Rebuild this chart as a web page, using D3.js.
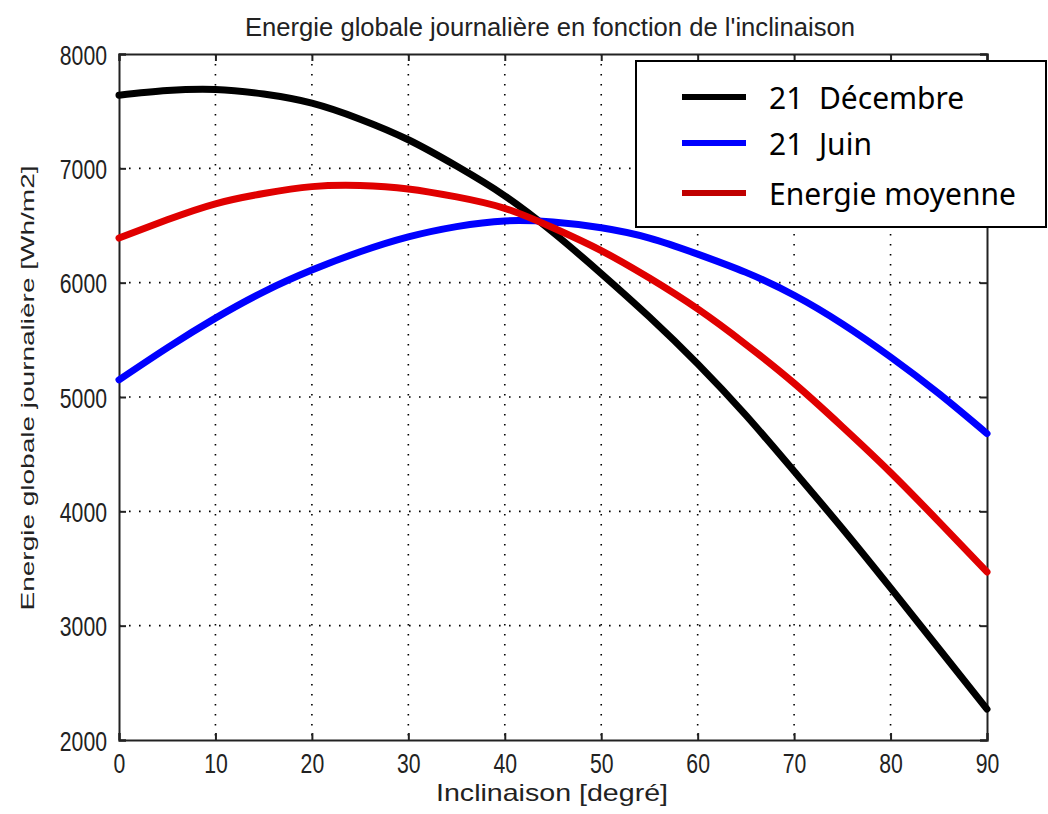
<!DOCTYPE html>
<html><head><meta charset="utf-8">
<script src="https://cdn.jsdelivr.net/npm/d3@7"></script>
<style>body{margin:0;background:#fff}svg{display:block}</style>
</head><body>
<svg id="c" width="1048" height="814"></svg>
<script>
const inclinaison = [0,5,10,15,20,25,30,35,40,45,50,55,60,65,70,75,80,85,90];
const decembre = [7640,7680,7690,7650,7570,7430,7250,7020,6760,6440,6080,5700,5290,4840,4350,3850,3330,2800,2270];
const juin     = [5150,5430,5690,5920,6110,6270,6400,6490,6540,6530,6480,6390,6250,6090,5890,5640,5350,5030,4680];
const moyenne  = [6390,6550,6690,6780,6840,6850,6820,6750,6650,6480,6280,6040,5770,5460,5120,4740,4340,3910,3470];
const xTicks = [0,10,20,30,40,50,60,70,80,90];
const yTicks = [2000,3000,4000,5000,6000,7000,8000];
const legendLabels = ["21  Décembre","21  Juin","Energie moyenne"];
const colors = ["#000000","#0000ff","#e00000"];
const legendColors = ["#000000","#0000ff","#c00000"];

const svg = d3.select("#c");
const L=119,R=987,T=54,B=740;
const x = d3.scaleLinear().domain([0,90]).range([L,R]);
const y = d3.scaleLinear().domain([2000,8000]).range([B,T]);

// grid
const g = svg.append("g");
g.selectAll(".gx").data(xTicks.slice(1,-1)).join("line")
 .attr("x1",d=>x(d)).attr("x2",d=>x(d)).attr("y1",T).attr("y2",B)
 .attr("stroke","#000").attr("stroke-width",1.6).attr("stroke-dasharray","1.6,8.4");
g.selectAll(".gy").data(yTicks.slice(1,-1)).join("line")
 .attr("y1",d=>y(d)).attr("y2",d=>y(d)).attr("x1",L).attr("x2",R)
 .attr("stroke","#000").attr("stroke-width",1.6).attr("stroke-dasharray","1.6,8.4");

// axes
const fontTick = "'Liberation Sans', Arial, sans-serif";
const ax = svg.append("g").attr("transform",`translate(0,${B})`)
  .call(d3.axisBottom(x).tickValues(xTicks).tickSize(-7).tickFormat(d3.format("d")));
const ax2 = svg.append("g").attr("transform",`translate(0,${T})`)
  .call(d3.axisTop(x).tickValues(xTicks).tickSize(-7).tickFormat(""));
const ay = svg.append("g").attr("transform",`translate(${L},0)`)
  .call(d3.axisLeft(y).tickValues(yTicks).tickSize(-7).tickFormat(d3.format("d")));
const ay2 = svg.append("g").attr("transform",`translate(${R},0)`)
  .call(d3.axisRight(y).tickValues(yTicks).tickSize(-7).tickFormat(""));
[ax,ax2,ay,ay2].forEach(a=>{
  a.select(".domain").attr("stroke","#222").attr("stroke-width",2);
  a.selectAll(".tick line").attr("stroke","#222").attr("stroke-width",2);
  a.selectAll("text").attr("font-family",fontTick).attr("font-size",27).attr("fill","#222")
   .attr("lengthAdjust","spacingAndGlyphs")
   .attr("textLength",function(){return this.textContent.length*11.8;});
});
ax.selectAll("text").attr("y",33).attr("dy",null);
ay.selectAll("text").attr("x",-12).attr("dy",null).attr("y",10);

// lines
const line = d3.line().x((d,i)=>x(inclinaison[i])).y(d=>y(d)).curve(d3.curveNatural);
[decembre,juin,moyenne].forEach((s,i)=>{
  svg.append("path").attr("d",line(s)).attr("fill","none")
    .attr("stroke",colors[i]).attr("stroke-width",7).attr("stroke-linecap","round");
});

// titles
svg.append("text").attr("x",550).attr("y",36).attr("text-anchor","middle")
  .attr("font-family",fontTick).attr("font-size",25).attr("fill","#222")
  .attr("textLength",610).attr("lengthAdjust","spacingAndGlyphs")
  .text("Energie globale journalière en fonction de l'inclinaison");
svg.append("text").attr("x",552).attr("y",801).attr("text-anchor","middle")
  .attr("font-family",fontTick).attr("font-size",24).attr("fill","#222")
  .attr("textLength",232).attr("lengthAdjust","spacingAndGlyphs")
  .text("Inclinaison [degré]");
svg.append("text").attr("transform","translate(34,388) rotate(-90)").attr("text-anchor","middle")
  .attr("font-family",fontTick).attr("font-size",19).attr("fill","#222")
  .attr("textLength",445).attr("lengthAdjust","spacingAndGlyphs")
  .text("Energie globale journalière [Wh/m2]");

// legend
const lg = svg.append("g");
lg.append("rect").attr("x",636).attr("y",61).attr("width",410).attr("height",166)
  .attr("fill","#fff").attr("stroke","#000").attr("stroke-width",2);
const ly = [97,143,193];
legendLabels.forEach((t,i)=>{
  lg.append("line").attr("x1",682).attr("x2",746).attr("y1",ly[i]).attr("y2",ly[i])
    .attr("stroke",legendColors[i]).attr("stroke-width",6);
  lg.append("text").attr("x",769).attr("y",ly[i]+12).attr("font-family","'Noto Sans', sans-serif")
    .style("white-space","pre")
    .attr("font-size",30).attr("fill","#000").text(t);
});
</script>
</body></html>
